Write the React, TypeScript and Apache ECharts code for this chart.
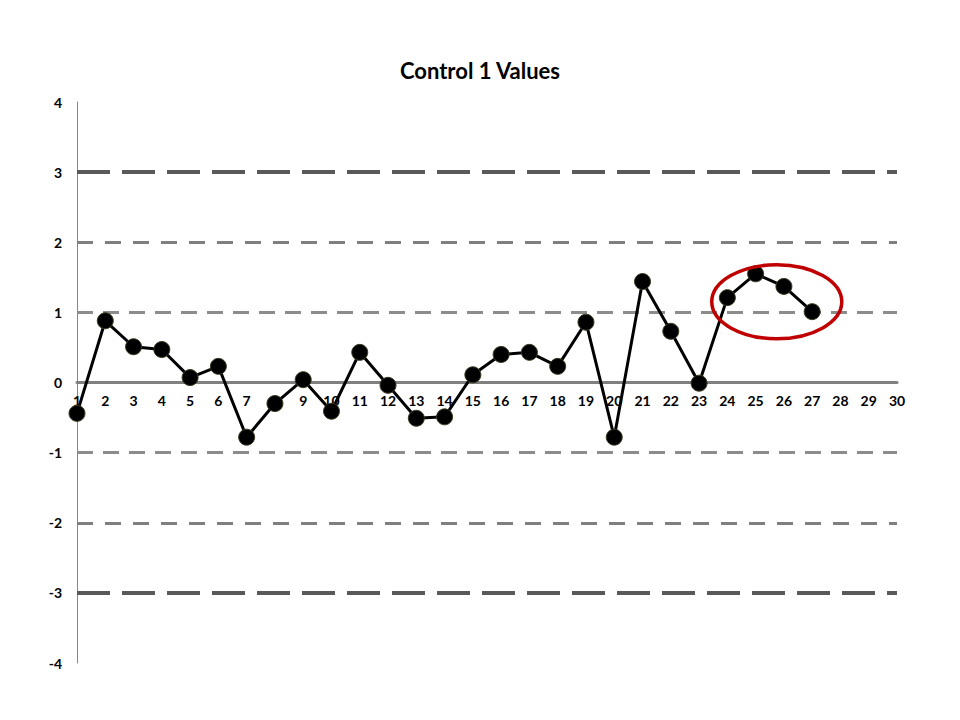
import React, { useEffect, useRef } from "react";
import * as echarts from "echarts";

const categories: string[] = Array.from({ length: 30 }, (_, i) => String(i + 1));
const values: (number | null)[] = [
  -0.44, 0.88, 0.51, 0.47, 0.07, 0.23, -0.78, -0.3, 0.04, -0.41,
  0.43, -0.04, -0.51, -0.49, 0.11, 0.4, 0.43, 0.23, 0.86, -0.78,
  1.44, 0.73, -0.01, 1.21, 1.55, 1.37, 1.01,
];
const yTicks = { min: -4, max: 4, interval: 1 };
const limitLines3 = [3, -3];
const limitLines2 = [2, -2];
const limitLines1 = [1, -1];
const highlightIdx = [23, 24, 25, 26];

export default function App() {
  const ref = useRef<HTMLDivElement>(null);
  useEffect(() => {
    if (!ref.current) return;
    const chart = echarts.init(ref.current, null, { renderer: "svg" });
    const font = "Lato, 'Open Sans', sans-serif";
    const gridTop = 94;
    const gridBottom = 49;
    const gridH = 704 - gridTop - gridBottom;
    const ml = (vals: number[], color: string, width: number, dash: number[]) =>
      vals.map((v) => ({
        yAxis: v,
        lineStyle: { color, width, type: dash },
      }));
    chart.setOption({
      animation: false,
      title: {
        text: "Control 1 Values",
        left: "center",
        top: 46,
        textStyle: { fontFamily: font, fontWeight: "bold", fontSize: 22, color: "#000" },
      },
      grid: { left: 69, right: 55, top: gridTop, bottom: gridBottom },
      xAxis: {
        type: "category",
        data: categories,
        boundaryGap: false,
        offset: -gridH / 2,
        axisLine: { onZero: false, lineStyle: { color: "#808080", width: 3 } },
        axisTick: { show: false },
        axisLabel: {
          margin: 11,
          fontFamily: font,
          fontWeight: "bold",
          fontSize: 14,
          color: "#000",
          interval: 0,
        },
        splitLine: { show: false },
      },
      yAxis: {
        type: "value",
        min: yTicks.min,
        max: yTicks.max,
        interval: yTicks.interval,
        axisLine: { show: true, lineStyle: { color: "#868686", width: 1 } },
        axisTick: { show: false },
        axisLabel: {
          margin: 15,
          fontFamily: font,
          fontWeight: "bold",
          fontSize: 14,
          color: "#000",
        },
        splitLine: { show: false },
      },
      series: [
        {
          type: "line",
          data: values,
          symbol: "circle",
          symbolSize: 16,
          z: 5,
          lineStyle: { color: "#000", width: 3 },
          itemStyle: { color: "#000", borderColor: "#3b3a1f", borderWidth: 1 },
          markLine: {
            silent: true,
            symbol: "none",
            label: { show: false },
            z: 1,
            data: [
              ...ml(limitLines3, "#595959", 4, [33, 12]),
              ...ml(limitLines2, "#7f7f7f", 3, [16, 12]),
              ...ml(limitLines1, "#8c8c8c", 3, [16, 10]),
            ],
          },
        },
      ],
    });
    const pts = highlightIdx.map((i) => chart.convertToPixel({ seriesIndex: 0 }, [i, values[i] as number]) as number[]);
    const xs = pts.map((p) => p[0]);
    const ys = pts.map((p) => p[1]);
    const cx = (Math.min(...xs) + Math.max(...xs)) / 2;
    const cy = (Math.min(...ys) + Math.max(...ys)) / 2;
    chart.setOption({
      graphic: [
        {
          type: "ellipse",
          shape: { cx: cx + 7, cy: cy + 9, rx: 65, ry: 37 },
          style: { fill: "none", stroke: "#c00000", lineWidth: 3.5 },
          z: 10,
        },
      ],
    });
    return () => chart.dispose();
  }, []);
  return <div ref={ref} style={{ width: 944, height: 704 }} />;
}
